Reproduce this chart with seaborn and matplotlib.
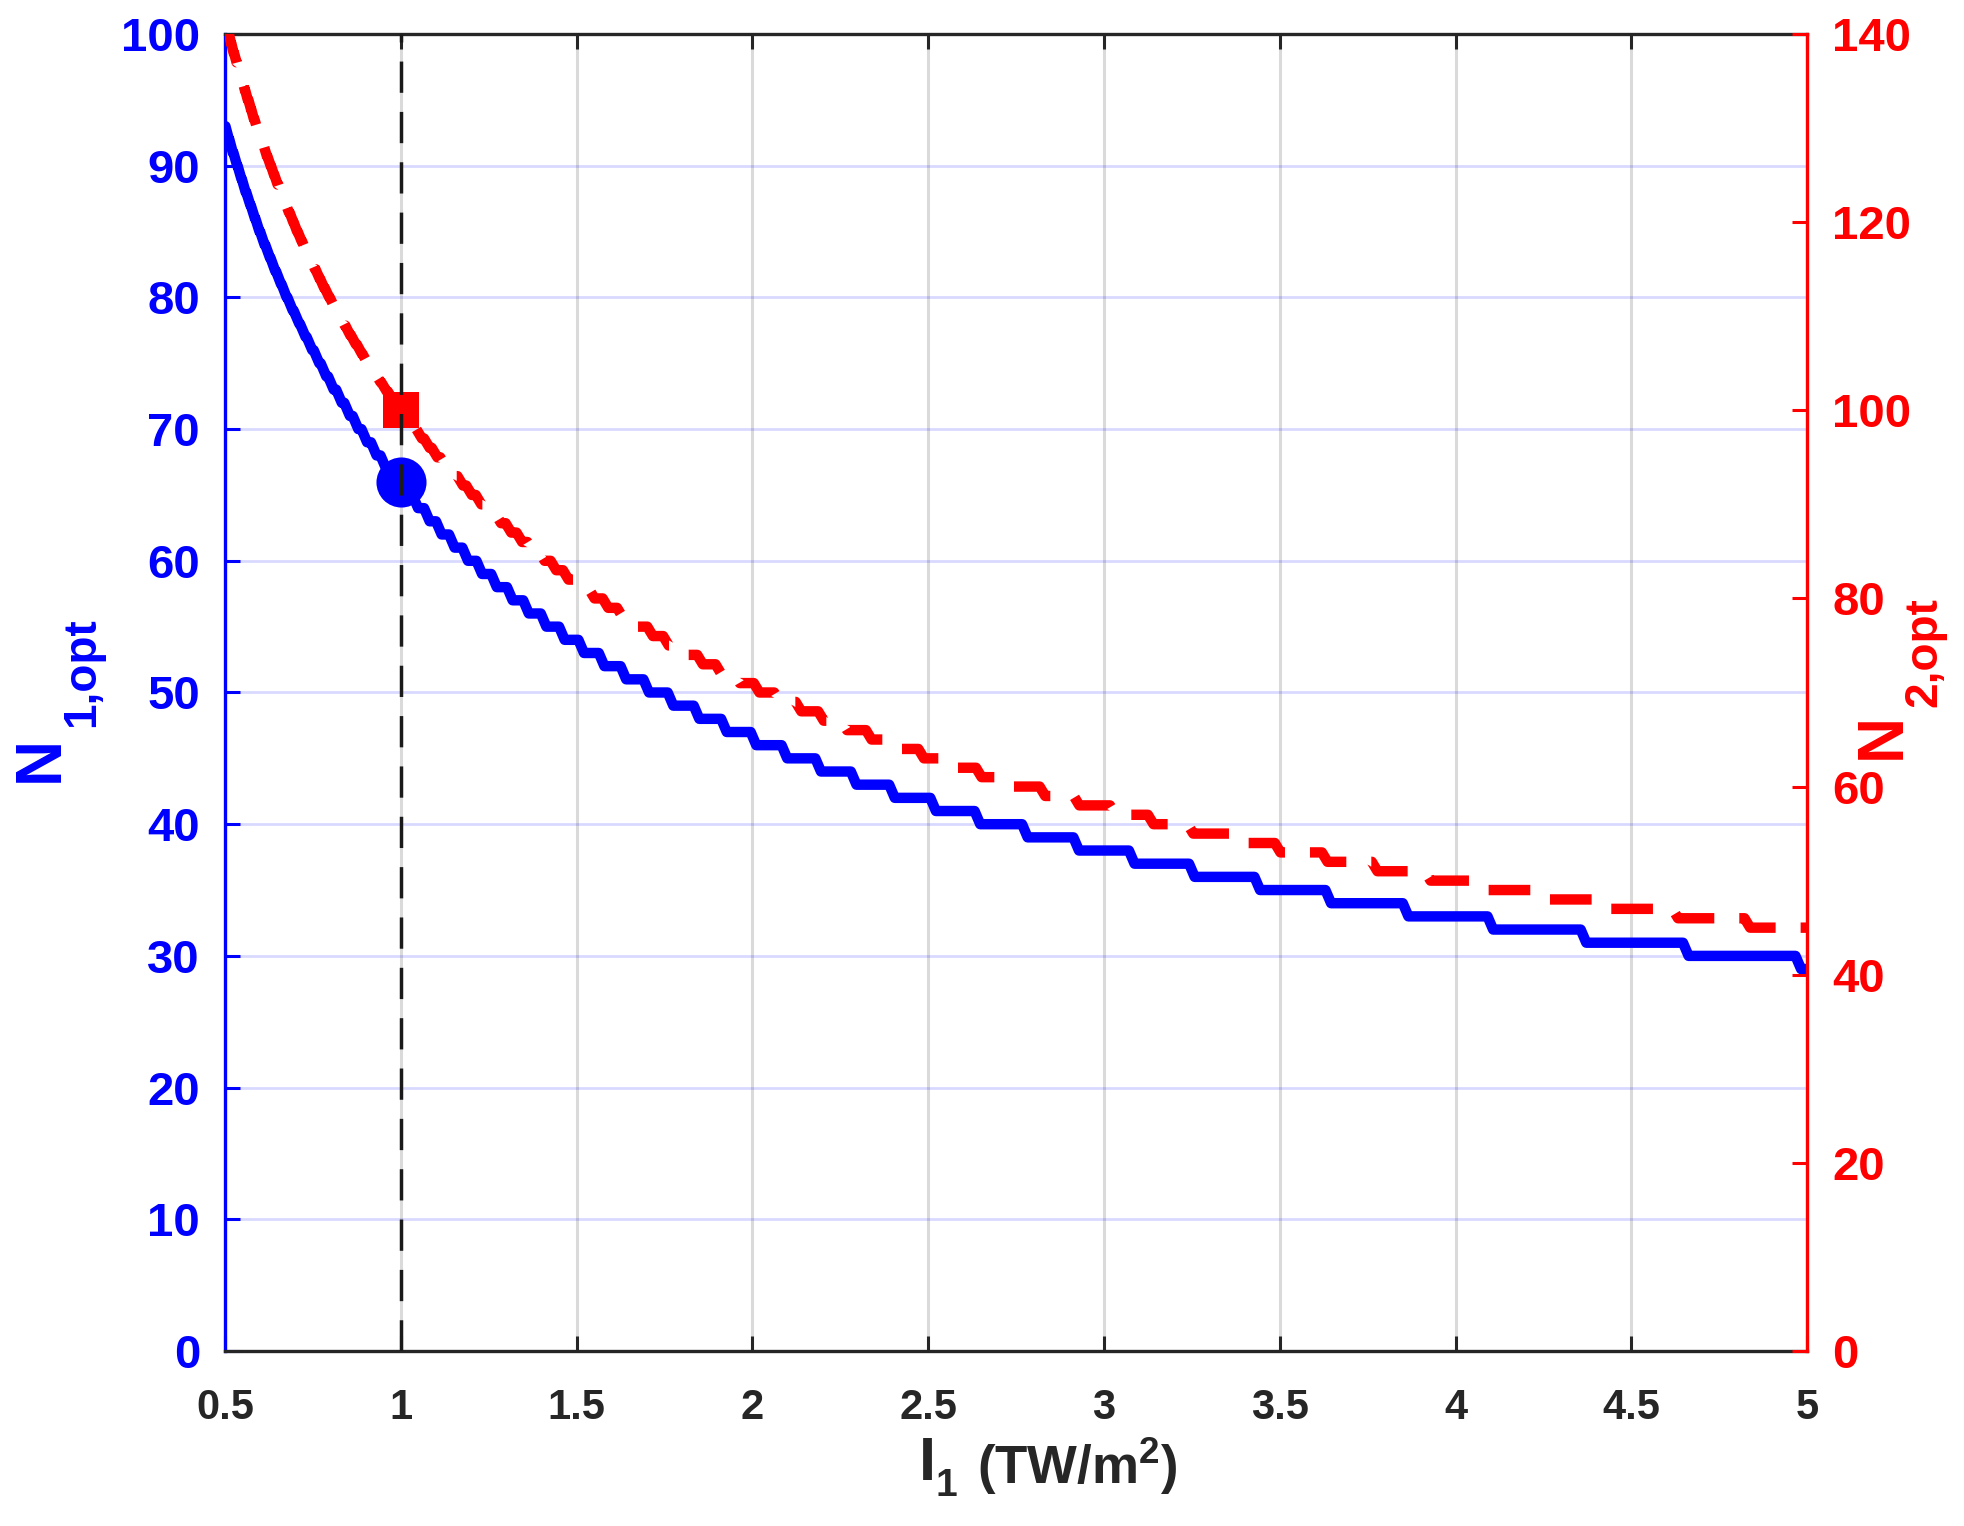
import matplotlib
matplotlib.use("Agg")
import matplotlib.pyplot as plt
import pandas as pd
import seaborn as sns

# Step curves: level at I = 0.5, then the I (TW/m^2) at which each integer step down happens
n1_start = 93
n1_breaks = [0.506, 0.517, 0.529, 0.541, 0.553, 0.566, 0.579, 0.592, 0.606, 0.621,
             0.636, 0.652, 0.668, 0.685, 0.703, 0.721, 0.740, 0.760, 0.780, 0.801,
             0.824, 0.847, 0.871, 0.896, 0.923, 0.950, 0.979, 1.009, 1.041, 1.074,
             1.108, 1.145, 1.183, 1.223, 1.265, 1.310, 1.356, 1.406, 1.458, 1.513,
             1.571, 1.633, 1.698, 1.767, 1.841, 1.919, 2.003, 2.091, 2.187, 2.288,
             2.397, 2.514, 2.640, 2.775, 2.921, 3.079, 3.250, 3.436, 3.638, 3.858,
             4.099, 4.364, 4.655, 4.975]

n2_start = 141
n2_breaks = [0.507, 0.514, 0.521, 0.529, 0.537, 0.545, 0.553, 0.561, 0.570, 0.578,
             0.587, 0.596, 0.606, 0.615, 0.625, 0.635, 0.645, 0.656, 0.666, 0.677,
             0.689, 0.700, 0.712, 0.724, 0.737, 0.750, 0.763, 0.776, 0.790, 0.804,
             0.819, 0.834, 0.849, 0.865, 0.882, 0.898, 0.916, 0.934, 0.952, 0.971,
             0.990, 1.010, 1.031, 1.052, 1.074, 1.096, 1.120, 1.144, 1.169, 1.194,
             1.221, 1.248, 1.277, 1.306, 1.337, 1.368, 1.401, 1.434, 1.469, 1.506,
             1.543, 1.582, 1.623, 1.665, 1.709, 1.754, 1.802, 1.851, 1.903, 1.956,
             2.012, 2.070, 2.131, 2.195, 2.261, 2.331, 2.404, 2.480, 2.560, 2.644,
             2.732, 2.825, 2.922, 3.025, 3.133, 3.246, 3.367, 3.494, 3.628, 3.770,
             3.921, 4.081, 4.251, 4.432, 4.625, 4.830]

x_min, x_max = 0.5, 5.0
x_ticks = [0.5, 1, 1.5, 2, 2.5, 3, 3.5, 4, 4.5, 5]
x_ticklabels = ["0.5", "1", "1.5", "2", "2.5", "3", "3.5", "4", "4.5", "5"]
y1_ticks = list(range(0, 101, 10))
y2_ticks = list(range(0, 141, 20))

# operating point marked at I1 = 1
op_x = 1.0
op_n1 = 66
op_n2 = 100


def step_frame(start, breaks, h=0.008):
    # sampled staircase: each drop is a short slanted segment, as in the source plot
    xs, ys = [x_min], [start]
    level = start
    for i, b in enumerate(breaks):
        gaps = []
        if i > 0:
            gaps.append(b - breaks[i - 1])
        if i < len(breaks) - 1:
            gaps.append(breaks[i + 1] - b)
        hh = min([h] + [0.45 * g for g in gaps])
        xs += [max(b - hh, x_min), b + hh]
        ys += [level, level - 1]
        level -= 1
    xs.append(x_max)
    ys.append(level)
    return pd.DataFrame({"I": xs, "N": ys})


df1 = step_frame(n1_start, n1_breaks)
df2 = step_frame(n2_start, n2_breaks)

sns.set_style("white")
plt.rcParams["font.family"] = ["Liberation Sans", "DejaVu Sans"]
plt.rcParams["font.weight"] = "bold"
plt.rcParams["axes.labelweight"] = "bold"
plt.rcParams["mathtext.fontset"] = "custom"
plt.rcParams["mathtext.rm"] = "Liberation Sans:bold"
plt.rcParams["mathtext.bf"] = "Liberation Sans:bold"
plt.rcParams["mathtext.it"] = "Liberation Sans:bold"

blue = "#0000ff"
red = "#ff0000"
dark = "#262626"

W, H = 1964, 1526
fig = plt.figure(figsize=(W / 100, H / 100), dpi=100)
ax = fig.add_axes([0.1146, 0.1147, 0.8055, 0.8630])
ax2 = ax.twinx()

sns.lineplot(data=df1, x="I", y="N", ax=ax, color=blue, linewidth=7.5,
             sort=False, estimator=None)
sns.lineplot(data=df2, x="I", y="N", ax=ax2, color=red, linewidth=7.5,
             sort=False, estimator=None, linestyle=(0, (4.0, 2.4)))

sns.scatterplot(x=[op_x], y=[op_n1], ax=ax, color=blue, s=1300, marker="o",
                linewidth=0, zorder=5)
sns.scatterplot(x=[op_x], y=[op_n2], ax=ax2, color=red, s=700, marker="s",
                linewidth=0, zorder=5)
ax2.axvline(op_x, color="#1a1a1a", linewidth=2.5, linestyle=(0, (9, 5.5)), zorder=10)

ax.set_xlim(x_min, x_max)
ax.set_ylim(0, 100)
ax2.set_ylim(0, 140)
ax.set_xticks(x_ticks)
ax.set_xticklabels(x_ticklabels)
ax.set_yticks(y1_ticks)
ax2.set_yticks(y2_ticks)
ax.set_xlabel("")
ax.set_ylabel("")
ax2.set_ylabel("")

# grid: light blue from the left axis, light gray vertical
ax.grid(True, axis="y", color=blue, alpha=0.15, linewidth=2)
ax.grid(True, axis="x", color=dark, alpha=0.17, linewidth=2.2)
ax.set_axisbelow(True)
ax2.grid(False)

for a in (ax, ax2):
    for s in a.spines.values():
        s.set_linewidth(2.4)
ax.spines["left"].set_color(blue)
ax.spines["bottom"].set_color(dark)
ax.spines["top"].set_color(dark)
ax.spines["right"].set_visible(False)
ax2.spines["right"].set_color(red)
ax2.spines["left"].set_visible(False)
ax2.spines["top"].set_visible(False)
ax2.spines["bottom"].set_visible(False)

ax.tick_params(axis="x", which="both", direction="in", top=True, bottom=True,
               length=11, width=2.2, color=dark, labelcolor=dark, labelsize=30, pad=27)
ax.tick_params(axis="y", direction="in", left=True, right=False, length=11, width=2.2,
               color=blue, labelcolor=blue, labelsize=34, pad=18)
ax2.tick_params(axis="y", direction="in", right=True, left=False, length=11, width=2.2,
                color=red, labelcolor=red, labelsize=34, pad=18)
for lab in ax.get_xticklabels() + ax.get_yticklabels() + ax2.get_yticklabels():
    lab.set_fontweight("bold")


def label_at(x, y, s, size, color, rot=0):
    fig.text(x / W, 1 - y / H, s, fontsize=size, color=color, fontweight="bold",
             rotation=rot, ha="center", va="center")


# axis titles, MATLAB-like: large letter, lowered subscript
label_at(41, 759, "N", 46, blue, 90)
label_at(82, 672, "1,opt", 33, blue, 90)
label_at(1883, 736, "N", 46, red, 90)
label_at(1924, 652, "2,opt", 33, red, 90)
label_at(927, 1465, "I", 44, dark)
label_at(946, 1486, "1", 28, dark)
label_at(1077, 1466, r"(TW/m$^\mathbf{2}$)", 38, dark)

fig.savefig("out.png", dpi=100)
